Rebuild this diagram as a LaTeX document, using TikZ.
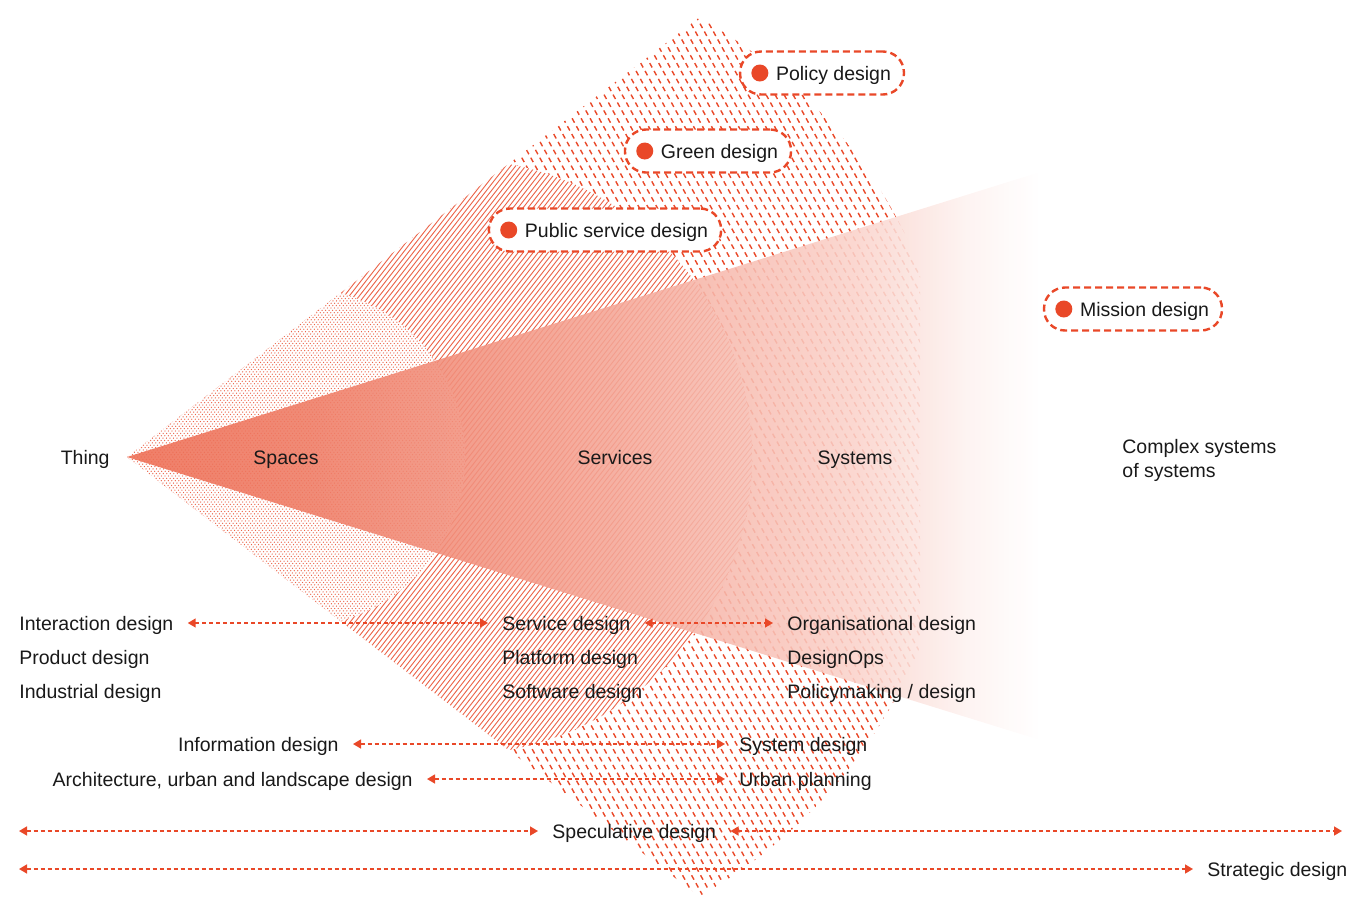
\documentclass[tikz,border=0pt]{standalone}
\usepackage{fontspec}
\setmainfont{Liberation Sans}
\usetikzlibrary{arrows.meta, positioning}

\definecolor{accent}{RGB}{233,72,40}
\definecolor{ink}{RGB}{25,25,25}
\pgfdeclarehorizontalshading{coneshade}{100bp}{%
  color(0bp)=(accent!80); color(25bp)=(accent!80); color(35bp)=(accent!72);
  color(52bp)=(accent!48); color(65bp)=(accent!24); color(71bp)=(accent!7);
  color(75bp)=(white); color(100bp)=(white)}

\begin{document}
\begin{tikzpicture}[
        x=0.5pt, y=-0.5pt,
        font=\fontsize{9.75pt}{12pt}\selectfont, text=ink,
        lbl/.style={inner sep=0pt, text height=8pt, text depth=1pt},
        pill/.style={draw=accent, fill=white, line width=1.2pt, dash pattern=on 3.5pt off 2pt,
            rounded corners=10.5pt, minimum height=21.5pt, inner xsep=6.5pt, inner ysep=0pt,
            text height=8pt, text depth=1pt},
        dotmark/.style={circle, fill=accent, minimum size=8.5pt, inner sep=0pt},
        link/.style={{Triangle[length=4pt,width=4.5pt]}-{Triangle[length=4pt,width=4.5pt]},
            accent, line width=0.75pt, dash pattern=on 2pt off 1.5pt},
        dashhatch/.style={accent, line width=0.7pt, dash pattern=on 2.5pt off 2pt},
        linehatch/.style={accent!85, line width=0.45pt},
        dothatch/.style={accent!85, line width=0.45pt, dash pattern=on 0.5pt off 1pt}
    ]
        \useasboundingbox (0,0) rectangle (1370,916);

        % Hatched fans
        \begin{scope}
            \clip (127,457) -- (920,-152) -- (920,1066) -- cycle;
            \clip (454,457) circle (503);
            \foreach \c in {-150,-141,...,790}
                \draw[dashhatch] (\c,0) -- ++(504,916);
        \end{scope}
        \begin{scope}
            \clip (127,457) -- (920,-152) -- (920,1066) -- cycle;
            \clip (454,457) circle (298);
            \fill[white] (0,0) rectangle (1370,916);
            \foreach \c in {480,485,...,1195}
                \draw[linehatch] (\c,0) -- ++(-714,916);
        \end{scope}
        \begin{scope}
            \clip (127,457) -- (920,-152) -- (920,1066) -- cycle;
            \clip (295,457) circle (170);
            \fill[white] (0,0) rectangle (1370,916);
            \foreach \c in {480,483.5,...,875}
                \draw[dothatch] (\c,0) -- ++(-714,916);
        \end{scope}

        % Cone
        \shade[shading=coneshade, fill opacity=0.88] (127,457) -- (1040,172) -- (1040,740) -- cycle;

        % Nodes
        \node[lbl, anchor=east] (thing) at (110,457) {Thing};
        \node[lbl] (spaces) at (286,457) {Spaces};
        \node[lbl] (services) at (615,457) {Services};
        \node[lbl] (systems) at (855,457) {Systems};
        \node[inner sep=0pt, anchor=west, align=left] (complex) at (1122,460) {Complex systems\\of systems};

        \node[pill] (policy) at (822,73) {\hspace*{11.5pt}Policy design};
        \node[dotmark] (policydot) at ([xshift=10.5pt]policy.west) {};
        \node[pill] (green) at (708,151) {\hspace*{11.5pt}Green design};
        \node[dotmark] (greendot) at ([xshift=10.5pt]green.west) {};
        \node[pill] (public) at (605,230) {\hspace*{11.5pt}Public service design};
        \node[dotmark] (publicdot) at ([xshift=10.5pt]public.west) {};
        \node[pill] (mission) at (1133,309) {\hspace*{11.5pt}Mission design};
        \node[dotmark] (missiondot) at ([xshift=10.5pt]mission.west) {};

        \node[lbl, anchor=west] (interaction) at (19,623) {Interaction design};
        \node[lbl, below=17pt of interaction.west, anchor=west] (product) {Product design};
        \node[lbl, below=17pt of product.west, anchor=west] (industrial) {Industrial design};
        \node[lbl, anchor=west] (service) at (502,623) {Service design};
        \node[lbl, below=17pt of service.west, anchor=west] (platform) {Platform design};
        \node[lbl, below=17pt of platform.west, anchor=west] (software) {Software design};
        \node[lbl, anchor=west] (organisational) at (787,623) {Organisational design};
        \node[lbl, below=17pt of organisational.west, anchor=west] (designops) {DesignOps};
        \node[lbl, below=17pt of designops.west, anchor=west] (policymaking) {Policymaking / design};

        \node[lbl, anchor=east] (information) at (339,744) {Information design};
        \node[lbl, anchor=east] (architecture) at (413,779) {Architecture, urban and landscape design};
        \node[lbl, anchor=west] (sysdesign) at (739,744) {System design};
        \node[lbl, anchor=west] (urban) at (739,779) {Urban planning};
        \node[lbl, anchor=west] (speculative) at (552,831) {Speculative design};
        \node[lbl, anchor=west] (strategic) at (1207,869) {Strategic design};
        \coordinate (specleft) at (19,831);
        \coordinate (specright) at (1342,831);
        \coordinate (stratleft) at (19,869);

        % Arrows
        \draw[link, shorten <=7pt, shorten >=7pt] (interaction.east) -- (service.west);
        \draw[link, shorten <=7pt, shorten >=7pt] (service.east) -- (organisational.west);
        \draw[link, shorten <=7pt, shorten >=7pt] (information.east) -- (sysdesign.west);
        \draw[link, shorten <=7pt, shorten >=7pt] (architecture.east) -- (urban.west);
        \draw[link, shorten >=7pt] (specleft) -- (speculative.west);
        \draw[link, shorten <=7pt] (speculative.east) -- (specright);
        \draw[link, shorten >=7pt] (stratleft) -- (strategic.west);
    \end{tikzpicture}
\end{document}
